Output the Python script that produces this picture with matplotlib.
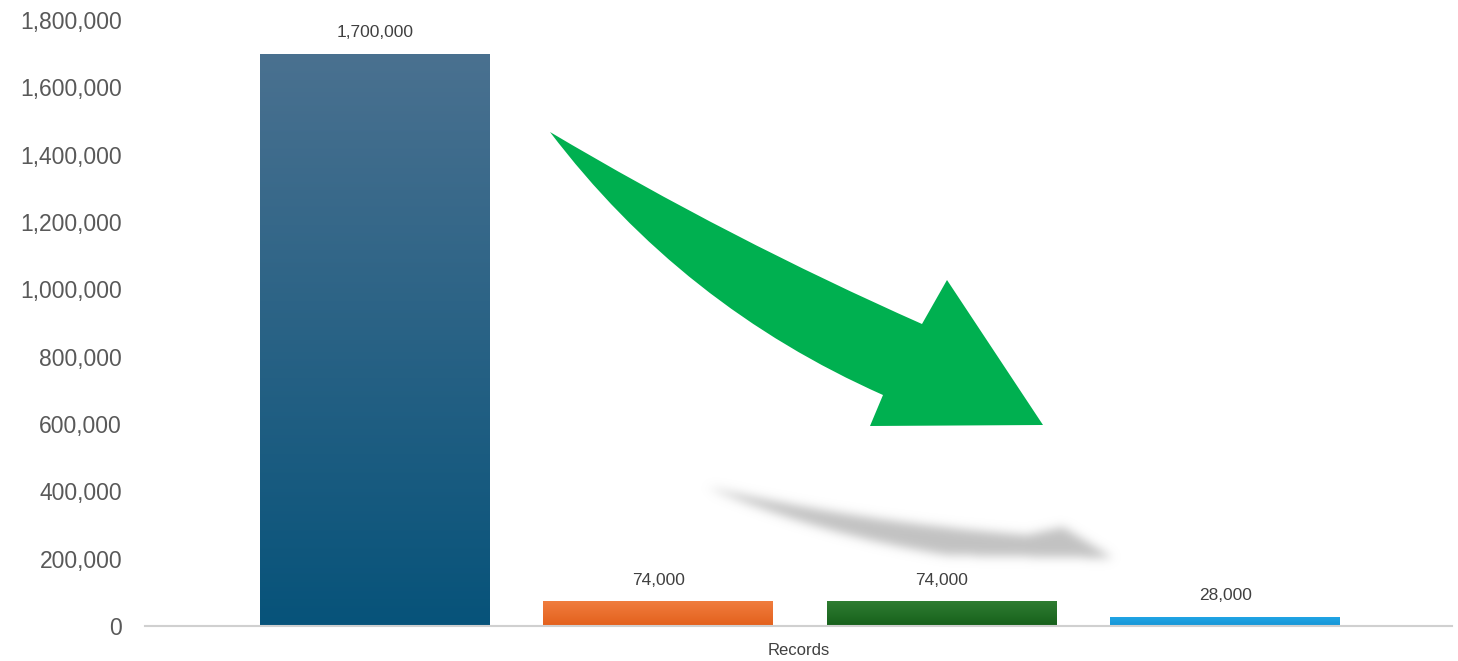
import matplotlib
matplotlib.use('Agg')
import matplotlib.pyplot as plt
import numpy as np
from matplotlib.path import Path
from matplotlib.patches import PathPatch
from matplotlib.colors import LinearSegmentedColormap

plt.rcParams['font.family'] = ['Liberation Sans', 'DejaVu Sans']

# data
values = [1700000, 74000, 74000, 28000]
category = 'Records'
yticks = list(range(0, 1800001, 200000))

# gradient colours for each bar (top, bottom)
top_colors = ['#4a7190', '#f07d3e', '#2f7d32', '#22a6e6']
bottom_colors = ['#07537a', '#e3601c', '#16601b', '#1595d6']

W, H = 1458, 661
fig = plt.figure(figsize=(W / 100, H / 100), dpi=100)
ax = fig.add_axes([145 / W, 35 / H, 1307 / W, 606 / H])
ax.patch.set_visible(False)

x = np.arange(len(values))
bars = ax.bar(x, values, width=0.81, color='none', edgecolor='none', zorder=2)

grad = np.linspace(0, 1, 256).reshape(-1, 1)
for b, c_top, c_bot in zip(bars, top_colors, bottom_colors):
    cmap = LinearSegmentedColormap.from_list('g', [c_bot, c_top])
    im = ax.imshow(grad, cmap=cmap, origin='lower', aspect='auto', zorder=2,
                   extent=[b.get_x(), b.get_x() + b.get_width(), 0, b.get_height()])
    im.set_clip_path(b)

for xi, v in zip(x, values):
    ax.text(xi, v + 62000, f'{v:,}', ha='center', va='center',
            fontsize=12.5, color='#404040')

ax.set_xlim(-0.81, 3.8)
ax.set_ylim(0, 1800000)
ax.set_yticks(yticks)
ax.set_yticklabels([f'{t:,}' for t in yticks])
ax.set_xticks([])
ax.tick_params(axis='y', length=0, pad=16.5, labelsize=16.5, labelcolor='#595959')
ax.set_xlabel(category, fontsize=12, color='#404040', labelpad=12)
for s in ['left', 'top', 'right']:
    ax.spines[s].set_visible(False)
ax.spines['bottom'].set_color('#d0d0d0')
ax.spines['bottom'].set_linewidth(1.5)


# decorative arrows, laid out in figure pixels
def px(p):
    return (p[0] / W, 1 - p[1] / H)


M, C3, L, CL = Path.MOVETO, Path.CURVE3, Path.LINETO, Path.CLOSEPOLY

# blurred grey shadow arrow (rasterised and blurred with numpy)
shadow_pts = [(707, 487), (860, 522), (1027, 535), (1063, 527), (1113, 558),
              (947, 555), (820, 535), (707, 487), (707, 487)]
shadow_codes = [M, C3, C3, L, L, L, C3, C3, CL]
shadow = Path(shadow_pts, shadow_codes)
x0, x1, y0, y1 = 670, 1150, 455, 590
gx, gy = np.meshgrid(np.arange(x0, x1) + 0.5, np.arange(y0, y1) + 0.5)
mask = shadow.contains_points(np.c_[gx.ravel(), gy.ravel()]).reshape(gx.shape).astype(float)
k = np.exp(-0.5 * (np.arange(-15, 16) / 5.0) ** 2)
k /= k.sum()
mask = np.apply_along_axis(lambda r: np.convolve(r, k, mode='same'), 1, mask)
mask = np.apply_along_axis(lambda c: np.convolve(c, k, mode='same'), 0, mask)
rgba = np.zeros(mask.shape + (4,))
rgba[..., :3] = 0.72
rgba[..., 3] = np.clip(mask * 0.85, 0, 1)
fig.figimage(rgba, xo=x0, yo=H - y1, origin='upper', zorder=-1)

# green arrow
arrow_pts = [(550, 132), (730, 239), (922, 324), (947, 280), (1043, 425),
             (870, 426), (883, 395), (682, 306), (550, 132), (550, 132)]
arrow_codes = [M, C3, C3, L, L, L, L, C3, C3, CL]
arrow = Path([px(p) for p in arrow_pts], arrow_codes)
ax.add_patch(PathPatch(arrow, transform=fig.transFigure, facecolor='#00b050',
                       edgecolor='none', clip_on=False, zorder=5))

fig.savefig('out.png', dpi=100, facecolor='white')
